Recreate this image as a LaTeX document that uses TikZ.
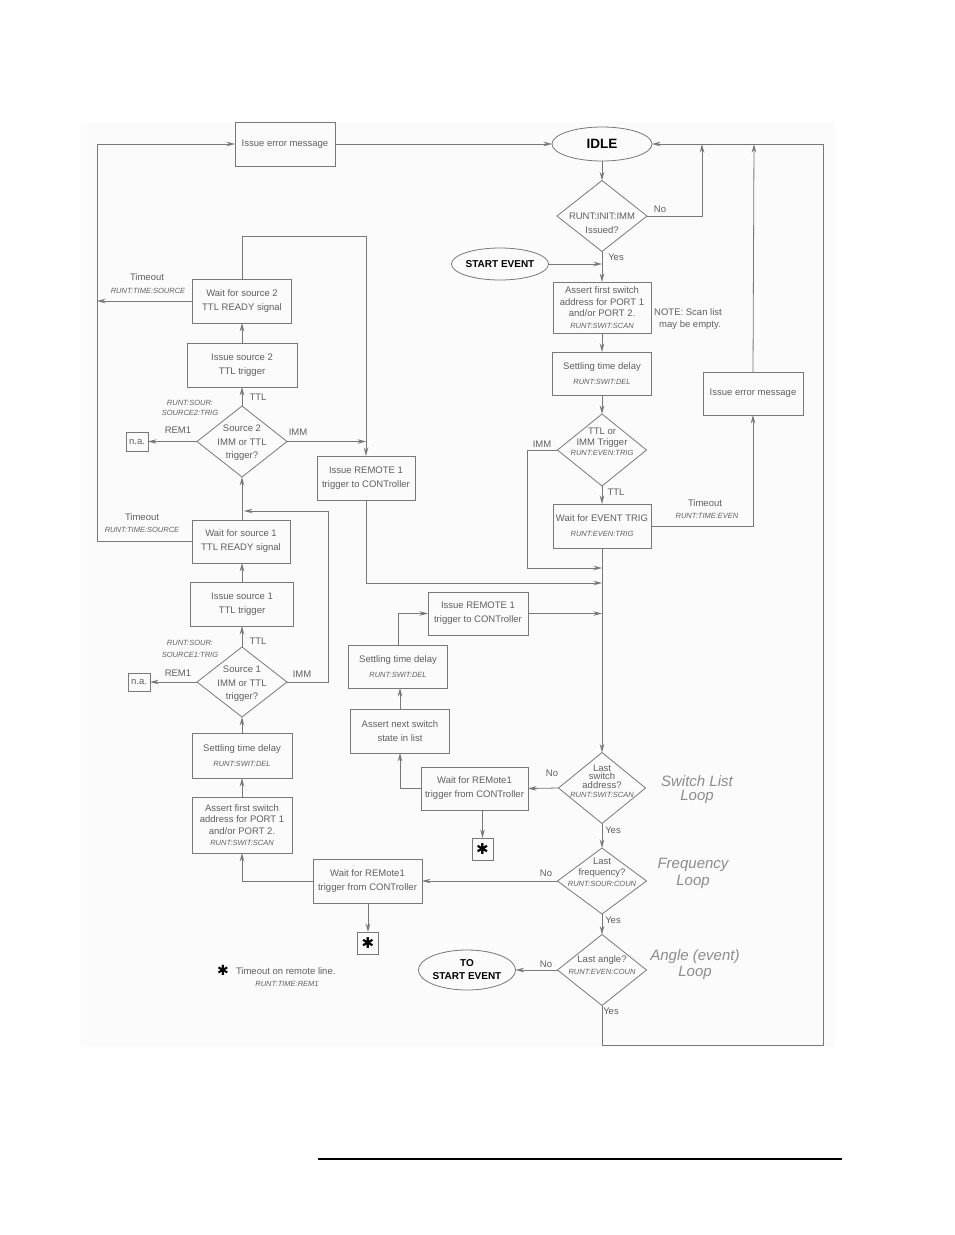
\documentclass[tikz,border=0pt]{standalone}
\usepackage{fontspec}
\setmainfont{Liberation Sans}
\newfontfamily\djv{DejaVu Sans}
\usetikzlibrary{arrows.meta,shapes.geometric,calc}
\definecolor{ln}{RGB}{120,120,120}
\definecolor{tx}{RGB}{95,95,95}
\definecolor{lp}{RGB}{140,140,140}
\definecolor{bgc}{RGB}{251,251,251}
\newcommand{\cmdtxt}[1]{{\fontsize{7.5}{9}\selectfont\itshape #1}}
\begin{document}
\begin{tikzpicture}[x=1pt,y=-1pt,
  every node/.style={inner sep=0pt, outer sep=0pt},
  box/.style={draw=ln, line width=0.8pt, rectangle, align=center, text=tx, font=\fontsize{9.5}{14}\selectfont},
  dia/.style={draw=ln, line width=0.8pt, diamond},
  ell/.style={draw=ln, line width=0.8pt, ellipse, text=black, align=center},
  lbl/.style={text=tx, font=\fontsize{9.5}{12}\selectfont, align=center},
  cmd/.style={text=tx, font=\fontsize{7.5}{10}\selectfont\itshape, align=center},
  loopl/.style={text=lp, font=\fontsize{15}{16}\selectfont\itshape, align=center},
  starbox/.style={draw=ln, line width=0.8pt, minimum width=21, minimum height=22, font=\djv\fontsize{15}{15}\selectfont, text=black},
  con/.style={draw=ln, line width=0.8pt},
  arr/.style={con, -{Stealth[length=8.5pt,width=4.5pt]}},
]
\useasboundingbox (0,0) rectangle (954,1235);
\fill[bgc] (81,122) rectangle (835,1047);

% ---------- right column ----------
\node[box, minimum width=100, minimum height=44] (errT) at (285,144) {Issue error message};
\node[ell, minimum width=100, minimum height=34, font=\fontsize{13.5}{14}\selectfont\bfseries] (idle) at (602,144) {IDLE};
\node[dia, minimum width=90, minimum height=71] (dInit) at (602,216) {};
\node[lbl] at (602,223) {RUNT:INIT:IMM\\[2pt]Issued?};
\node[ell, minimum width=90, minimum height=32, font=\fontsize{10}{12}\selectfont\bfseries] (start) at (500,264) {START EVENT};
\node[box, minimum width=98, minimum height=51, font=\fontsize{9.5}{11.5}\selectfont] (aR) at (602,307.5) {Assert first switch\\address for PORT 1\\and/or PORT 2.\\\cmdtxt{RUNT:SWIT:SCAN}};
\node[box, minimum width=99, minimum height=43, font=\fontsize{9.5}{15}\selectfont] (setR) at (602,373.5) {Settling time delay\\\cmdtxt{RUNT:SWIT:DEL}};
\node[dia, minimum width=89, minimum height=72] (dTrig) at (602,450) {};
\node[lbl, font=\fontsize{9.5}{10.5}\selectfont] at (602,442) {TTL or\\IMM Trigger\\\cmdtxt{RUNT:EVEN:TRIG}};
\node[box, minimum width=98, minimum height=44, font=\fontsize{9.5}{15}\selectfont] (waitEv) at (602,526) {Wait for EVENT TRIG\\\cmdtxt{RUNT:EVEN:TRIG}};
\node[box, minimum width=100, minimum height=43] (errR) at (753,393.5) {Issue error message};
\node[dia, minimum width=87, minimum height=71] (dSw) at (602,788) {};
\node[lbl, font=\fontsize{9.5}{8.8}\selectfont] at (602,781) {Last\\switch\\address?\\\cmdtxt{RUNT:SWIT:SCAN}};
\node[dia, minimum width=89, minimum height=66] (dFr) at (602,881) {};
\node[lbl, font=\fontsize{9.5}{11}\selectfont] at (602,872) {Last\\frequency?\\\cmdtxt{RUNT:SOUR:COUN}};
\node[dia, minimum width=89, minimum height=71] (dAn) at (602,970) {};
\node[lbl, font=\fontsize{9.5}{12}\selectfont] at (602,965) {Last angle?\\\cmdtxt{RUNT:EVEN:COUN}};
\node[ell, minimum width=92, minimum height=40, font=\fontsize{10}{13}\selectfont\bfseries] (toStart) at (467,970) {TO\\START EVENT};

% ---------- middle column ----------
\node[box, minimum width=98, minimum height=44] (rem1a) at (366,478) {Issue REMOTE 1\\trigger to CONTroller};
\node[box, minimum width=100, minimum height=43] (rem1b) at (478,613.5) {Issue REMOTE 1\\trigger to CONTroller};
\node[box, minimum width=99, minimum height=43, font=\fontsize{9.5}{15}\selectfont] (setM) at (398,666.5) {Settling time delay\\\cmdtxt{RUNT:SWIT:DEL}};
\node[box, minimum width=99, minimum height=44] (nextM) at (400,731) {Assert next switch\\state in list};
\node[box, minimum width=107, minimum height=43] (remM) at (474.5,788.5) {Wait for REMote1\\trigger from CONTroller};
\node[starbox] (starM) at (482.5,849) {✱};
\node[box, minimum width=109, minimum height=44] (remL) at (367.5,881) {Wait for REMote1\\trigger from CONTroller};
\node[starbox] (starL) at (368,943) {✱};

% ---------- left column ----------
\node[box, minimum width=99, minimum height=44] (src2w) at (242,301) {Wait for source 2\\TTL READY signal};
\node[box, minimum width=110, minimum height=44] (src2i) at (242,365) {Issue source 2\\TTL trigger};
\node[dia, minimum width=90, minimum height=71] (d2) at (242,441.5) {};
\node[lbl, font=\fontsize{9.5}{13.5}\selectfont] at (242,443) {Source 2\\IMM or TTL\\trigger?};
\node[box, minimum width=22, minimum height=19] (na2) at (137,441.5) {n.a.};
\node[box, minimum width=98, minimum height=43] (src1w) at (241,541.5) {Wait for source 1\\TTL READY signal};
\node[box, minimum width=103, minimum height=44] (src1i) at (242,604) {Issue source 1\\TTL trigger};
\node[dia, minimum width=90, minimum height=70] (d1) at (242,682) {};
\node[lbl, font=\fontsize{9.5}{13.5}\selectfont] at (242,684) {Source 1\\IMM or TTL\\trigger?};
\node[box, minimum width=22, minimum height=18] (na1) at (139,682) {n.a.};
\node[box, minimum width=100, minimum height=45, font=\fontsize{9.5}{15}\selectfont] (setL) at (242,755.5) {Settling time delay\\\cmdtxt{RUNT:SWIT:DEL}};
\node[box, minimum width=100, minimum height=56, font=\fontsize{9.5}{11.5}\selectfont] (aL) at (242,825) {Assert first switch\\address for PORT 1\\and/or PORT 2.\\\cmdtxt{RUNT:SWIT:SCAN}};

% ---------- junction coordinates ----------
\coordinate (tA) at (702,144);
\coordinate (tB) at (754,144);
\coordinate (jImm) at (602,568);
\coordinate (jRa) at (602,583);
\coordinate (jL2) at (97,301);
\coordinate (jR2) at (366,441.5);
\coordinate (jS1) at (244,511);

% ---------- connectors ----------
\draw[arr] (errT.east) -- (idle.west);
\draw[arr] (idle.south) -- (dInit.north);
\draw[arr] (dInit.east) -| (tA);
\draw[arr] (dInit.south) -- (aR.north);
\draw[arr] (start.east) -- (start.east -| aR.north);
\draw[arr] (aR.south) -- (setR.north);
\draw[arr] (setR.south) -- (dTrig.north);
\draw[arr] (dTrig.south) -- (waitEv.north);
\draw[arr] (dTrig.west) -| (527,568) -- (jImm);
\draw[arr] (waitEv.east) -| (errR.south);
\draw[arr] (errR.north) -- (tB);
\draw[arr] (dAn.south) -- (602,1045) -- (823,1045) -- (823,144) -- (idle.east);
\draw[arr] (waitEv.south) -- (dSw.north);
\draw[arr] (rem1a.south) |- (jRa);
\draw[arr] (rem1b.east) -- (rem1b.east -| dSw.north);
\draw[arr] (dSw.west) -- (remM.east);
\draw[arr] (remM.west) -| (nextM.south);
\draw[arr] (nextM.north) -- (setM.south -| nextM.north);
\draw[arr] (setM.north) |- (rem1b.west);
\draw[arr] (remM.south -| starM.north) -- (starM.north);
\draw[arr] (dSw.south) -- (dFr.north);
\draw[arr] (dFr.west) -- (remL.east);
\draw[arr] (remL.west) -| (aL.south);
\draw[arr] (remL.south -| starL.north) -- (starL.north);
\draw[arr] (dFr.south) -- (dAn.north);
\draw[arr] (dAn.west) -- (toStart.east);
\draw[arr] (aL.north) -- (setL.south);
\draw[arr] (setL.north) -- (d1.south);
\draw[arr] (d1.north) -- (src1i.south);
\draw[arr] (d1.west) -- (na1.east);
\draw[arr] (d1.east) -| (328,511) -- (jS1);
\draw[arr] (src1i.north) -- (src1w.south -| src1i.north);
\draw[arr] (src1w.north -| d2.south) -- (d2.south);
\draw[arr] (src1w.west) -| (97,144) -- (errT.west);
\draw[arr] (src2w.west) -- (jL2);
\draw[arr] (src2w.north) |- (366,236) -- (rem1a.north);
\draw[arr] (d2.north) -- (src2i.south);
\draw[arr] (src2i.north) -- (src2w.south);
\draw[arr] (d2.west) -- (na2.east);
\draw[arr] (d2.east) -- (jR2);

% ---------- labels ----------
\node[lbl] at (660,209) {No};
\node[lbl] at (616,257) {Yes};
\node[lbl] at (688,312) {NOTE: Scan list};
\node[lbl] at (690,325) {may be empty.};
\node[lbl] at (542,444) {IMM};
\node[lbl] at (616,492) {TTL};
\node[lbl] at (705,503) {Timeout};
\node[cmd] at (707,516) {RUNT:TIME:EVEN};
\node[lbl] at (552,773) {No};
\node[lbl] at (613,830) {Yes};
\node[lbl] at (546,873) {No};
\node[lbl] at (613,920) {Yes};
\node[lbl] at (546,964) {No};
\node[lbl] at (611,1011) {Yes};
\node[loopl] at (697,781) {Switch List};
\node[loopl] at (697,797) {Loop};
\node[loopl] at (693,865) {Frequency};
\node[loopl] at (693,882) {Loop};
\node[loopl] at (695,957) {Angle (event)};
\node[loopl] at (695,973) {Loop};

\node[lbl] at (147,277) {Timeout};
\node[cmd] at (148,291) {RUNT:TIME:SOURCE};
\node[lbl] at (258,397) {TTL};
\node[cmd] at (190,403) {RUNT:SOUR:};
\node[cmd] at (190,413) {SOURCE2:TRIG};
\node[lbl] at (178,430) {REM1};
\node[lbl] at (298,432) {IMM};
\node[lbl] at (142,517) {Timeout};
\node[cmd] at (142,530) {RUNT:TIME:SOURCE};
\node[lbl] at (258,641) {TTL};
\node[cmd] at (190,643) {RUNT:SOUR:};
\node[cmd] at (190,655) {SOURCE1:TRIG};
\node[lbl] at (178,673) {REM1};
\node[lbl] at (302,674) {IMM};

\node[font=\djv\fontsize{14}{14}\selectfont] at (223,970) {✱};
\node[lbl, anchor=west] at (236,971) {Timeout on remote line.};
\node[cmd] at (287,984) {RUNT:TIME:REM1};

\draw[line width=1.3pt] (318,1159) -- (842,1159);
\end{tikzpicture}
\end{document}
